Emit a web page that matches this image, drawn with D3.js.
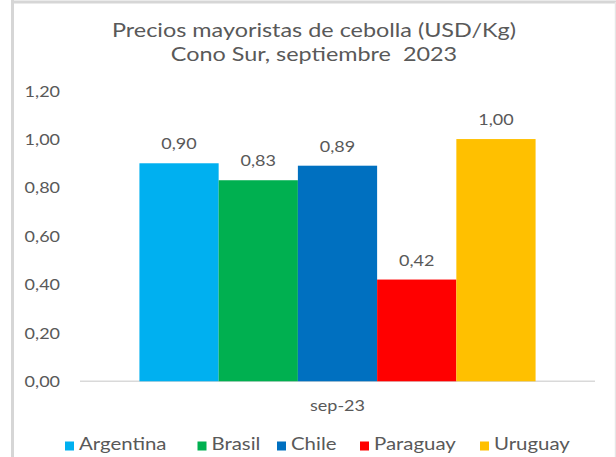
<!DOCTYPE html>
<html><head><meta charset="utf-8">
<script src="https://cdn.jsdelivr.net/npm/d3@7"></script>
<style>body{margin:0;background:#fff}svg{display:block}text{font-family:Lato,"Open Sans",sans-serif;white-space:pre}</style>
</head><body><svg id="c" width="616" height="457"></svg>
<script>
const titleLines = ["Precios mayoristas de cebolla (USD/Kg)", "Cono Sur, septiembre  2023"];
const category = ["sep-23"];
const countries = ["Argentina", "Brasil", "Chile", "Paraguay", "Uruguay"];
const values = [0.90, 0.83, 0.89, 0.42, 1.00];
const colors = ["#00B0F0", "#00B050", "#0070C0", "#FF0000", "#FFC000"];
const yTicks = [0, 0.2, 0.4, 0.6, 0.8, 1.0, 1.2];

const svg = d3.select("#c");
const SX = 1.2;
const fmt = v => d3.format(".2f")(v).replace(".", ",");
const txtCol = "#595959";

function stretchedText(g, x, y, str, size, anchor, fill) {
  const t = g.append("g").attr("transform", `translate(${x},${y}) scale(${SX},1)`);
  t.append("text").attr("xml:space", "preserve").attr("text-anchor", anchor).attr("font-size", size).attr("fill", fill || txtCol).text(str);
  return t;
}

// frame
svg.append("line").attr("x1", 11).attr("x2", 616).attr("y1", 2).attr("y2", 2).attr("stroke", "#d6d6d6").attr("stroke-width", 3);
svg.append("line").attr("x1", 12.5).attr("x2", 12.5).attr("y1", 0).attr("y2", 457).attr("stroke", "#d6d6d6").attr("stroke-width", 3);
svg.append("line").attr("x1", 615.5).attr("x2", 615.5).attr("y1", 2).attr("y2", 457).attr("stroke", "#e6e6e6").attr("stroke-width", 1.5);

const plot = {left: 80, right: 595, top: 90.6, bottom: 381.3};
const y = d3.scaleLinear().domain([0, 1.2]).range([plot.bottom, plot.top]);
const x0 = d3.scaleBand().domain(category).range([plot.left, plot.right]).paddingInner(0).paddingOuter(0.15);
const x1 = d3.scaleBand().domain(countries).range([0, x0.bandwidth()]);

// title
titleLines.forEach((l, i) => stretchedText(svg, 314, 37 + i * 23.5, l, 19.5, "middle"));

// y axis labels
const yAxis = d3.axisLeft(y).tickValues(yTicks).tickFormat(fmt).tickSize(0).tickPadding(0);
const ya = svg.append("g").attr("transform", `translate(60,0)`).call(yAxis);
ya.select(".domain").remove();
ya.selectAll(".tick text").each(function () {
  d3.select(this).attr("x", 0).attr("dy", "0.36em").attr("fill", txtCol).attr("font-size", 15)
    .attr("font-family", "Lato,sans-serif").attr("transform", `scale(${SX},1)`);
});

// baseline
svg.append("line").attr("x1", plot.left).attr("x2", plot.right).attr("y1", y(0)).attr("y2", y(0))
  .attr("stroke", "#d9d9d9").attr("stroke-width", 1.5);

// bars
const cat = svg.append("g").attr("transform", `translate(${x0(category[0])},0)`);
cat.selectAll("rect").data(values).join("rect")
  .attr("x", (d, i) => x1(countries[i])).attr("width", x1.bandwidth())
  .attr("y", d => y(d)).attr("height", d => y(0) - y(d)).attr("fill", (d, i) => colors[i]);
values.forEach((v, i) => stretchedText(cat, x1(countries[i]) + x1.bandwidth() / 2, y(v) - 14, fmt(v), 15, "middle"));

// category label
stretchedText(svg, x0(category[0]) + x0.bandwidth() / 2, 411, category[0], 15, "middle");

// legend
const legX = [65, 197.5, 277, 360, 480];
const leg = svg.append("g");
countries.forEach((c, i) => {
  leg.append("rect").attr("x", legX[i]).attr("y", 441.5).attr("width", 9).attr("height", 9).attr("fill", colors[i]);
  stretchedText(leg, legX[i] + 14, 450, c, 17, "start");
});
</script></body></html>
